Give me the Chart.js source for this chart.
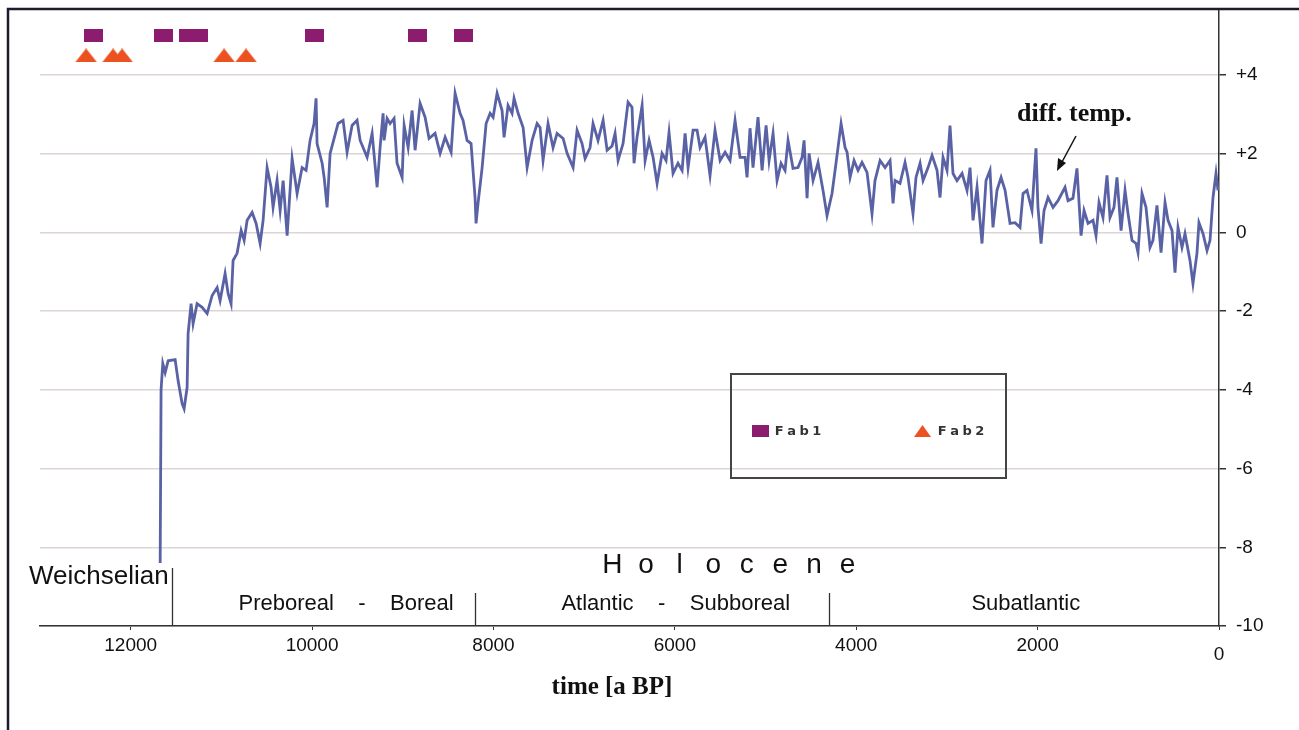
<!DOCTYPE html>
<html>
<head>
<meta charset="utf-8">
<script src="https://cdn.jsdelivr.net/npm/chart.js@4.4.1/dist/chart.umd.min.js"></script>
<style>
  html, body { margin: 0; padding: 0; background: #fff; }
  #wrap { width: 1299px; height: 730px; }
</style>
</head>
<body>
<div id="wrap"><canvas id="tempChart" width="1299" height="730"></canvas></div>
<script>
// === DATA ===
// temperature difference curve (years BP, deg C)
const tempYears = [
  11675, 11665, 11646, 11620, 11587, 11510, 11477, 11433, 11411, 11378, 11367, 11334, 11312, 11268, 11212,
  11157, 11102, 11047, 11014, 10959, 10926, 10893, 10871, 10827, 10782, 10749, 10716, 10661, 10617, 10573,
  10540, 10496, 10452, 10430, 10386, 10352, 10319, 10275, 10220, 10165, 10110, 10066, 10022, 9978, 9956,
  9945, 9889, 9867, 9834, 9801, 9757, 9713, 9658, 9614, 9559, 9504, 9470, 9393, 9338, 9283,
  9250, 9217, 9206, 9173, 9140, 9096, 9063, 9007, 8985, 8941, 8897, 8864, 8809, 8754, 8710,
  8644, 8588, 8533, 8467, 8423, 8368, 8335, 8291, 8247, 8203, 8192, 8170, 8125, 8081, 8037,
  8004, 7960, 7905, 7883, 7839, 7795, 7773, 7728, 7673, 7629, 7574, 7519, 7486, 7453, 7398,
  7343, 7299, 7232, 7188, 7122, 7078, 7023, 6990, 6935, 6902, 6847, 6791, 6747, 6692, 6659,
  6626, 6571, 6516, 6472, 6450, 6417, 6361, 6328, 6284, 6240, 6196, 6141, 6097, 6064, 6020,
  5965, 5920, 5887, 5854, 5799, 5755, 5722, 5667, 5612, 5557, 5501, 5446, 5391, 5336, 5281,
  5226, 5204, 5171, 5138, 5083, 5038, 4994, 4961, 4917, 4873, 4829, 4785, 4752, 4697, 4642,
  4597, 4575, 4542, 4520, 4476, 4421, 4366, 4322, 4267, 4223, 4167, 4123, 4101, 4068, 4024,
  3980, 3936, 3881, 3826, 3793, 3737, 3682, 3627, 3594, 3572, 3517, 3462, 3429, 3374, 3341,
  3296, 3263, 3208, 3164, 3109, 3076, 3043, 2999, 2966, 2933, 2889, 2833, 2778, 2745, 2712,
  2668, 2613, 2569, 2525, 2492, 2448, 2403, 2359, 2304, 2249, 2194, 2161, 2117, 2062, 2018,
  1996, 1962, 1929, 1885, 1830, 1775, 1698, 1665, 1610, 1566, 1521, 1488, 1444, 1389, 1356,
  1323, 1279, 1235, 1202, 1158, 1125, 1080, 1036, 1003, 959, 915, 893, 849, 805, 761,
  728, 684, 639, 595, 562, 518, 485, 452, 408, 375, 320, 287, 243, 221, 176,
  132, 99, 66, 33, 11
];
const tempValues = [
  -8.4, -4.0, -3.33, -3.56, -3.26, -3.23, -3.77, -4.35, -4.48, -3.94, -2.57, -1.81, -2.32, -1.81, -1.9,
  -2.06, -1.6, -1.4, -1.73, -1.04, -1.55, -1.81, -0.71, -0.53, 0.05, -0.2, 0.31, 0.51, 0.23, -0.28,
  0.31, 1.65, 1.15, 0.64, 1.32, 0.56, 1.32, -0.08, 1.88, 0.99, 1.65, 1.58, 2.34, 2.77, 3.41,
  2.26, 1.76, 1.4, 0.64, 2.01, 2.39, 2.77, 2.85, 2.04, 2.72, 2.85, 2.34, 1.91, 2.52, 1.15,
  2.16, 3.03, 2.34, 2.9, 2.77, 2.9, 1.76, 1.4, 2.72, 2.16, 3.1, 2.09, 3.28, 2.93, 2.39,
  2.52, 2.01, 2.42, 2.04, 3.54, 3.03, 2.85, 2.34, 2.26, 0.89, 0.23, 0.74, 1.65, 2.77, 3.03,
  2.93, 3.54, 3.1, 2.42, 3.23, 3.03, 3.41, 3.03, 2.67, 1.65, 2.34, 2.77, 2.67, 1.83, 2.77,
  2.16, 2.52, 2.39, 2.01, 1.65, 2.6, 2.26, 1.88, 2.16, 2.77, 2.34, 2.85, 2.09, 2.2, 2.52,
  1.83, 2.26, 3.31, 3.18, 1.76, 2.42, 3.23, 1.83, 2.34, 1.91, 1.25, 2.01, 1.83, 2.54, 1.5,
  1.76, 1.58, 2.52, 1.65, 2.6, 2.6, 2.16, 2.42, 1.45, 2.6, 1.83, 2.04, 1.83, 2.85, 1.91,
  1.91, 1.4, 2.65, 1.65, 2.93, 1.58, 2.72, 1.83, 2.52, 1.32, 1.76, 1.58, 2.34, 1.63, 1.65,
  1.91, 2.34, 0.87, 2.01, 1.32, 1.78, 1.07, 0.43, 0.99, 1.76, 2.77, 2.16, 2.04, 1.4, 1.83,
  1.58, 1.78, 1.53, 0.48, 1.32, 1.83, 1.65, 1.83, 0.74, 1.32, 1.25, 1.78, 1.4, 0.48, 1.4,
  1.76, 1.32, 1.65, 1.96, 1.58, 0.89, 1.91, 1.58, 2.72, 1.5, 1.32, 1.5, 1.07, 1.65, 0.31,
  1.15, -0.28, 1.32, 1.58, 0.13, 1.07, 1.4, 1.07, 0.23, 0.25, 0.13, 0.99, 1.07, 0.56, 2.14,
  0.64, -0.28, 0.56, 0.89, 0.64, 0.81, 1.15, 0.81, 0.87, 1.63, -0.08, 0.56, 0.23, 0.31, -0.08,
  0.76, 0.38, 1.45, 0.38, 0.64, 1.4, 0.05, 1.07, 0.48, -0.2, -0.28, -0.51, 0.99, 0.64, -0.38,
  -0.2, 0.69, -0.51, 0.76, 0.31, 0.05, -1.02, 0.13, -0.38, -0.03, -0.71, -1.3, -0.53, 0.25, -0.03,
  -0.46, -0.2, 0.89, 1.5, 1.07
];

// sample markers at the top
const fab1Years = [12414, 11643, 11367, 11257, 9978, 8842, 8335];
const fab2Years = [12492, 12194, 12095, 10970, 10728];
const fab1Level = 5.0;
const fab2Level = 4.5;

// axes
const xTicks = [12000, 10000, 8000, 6000, 4000, 2000, 0];
const yTicks = [-10, -8, -6, -4, -2, 0, 2, 4];

// pollen zones (boundaries and label centres in years BP)
const periodBounds = [11550, 8200, 4300];
const periodNames = ['Preboreal    -    Boreal', 'Atlantic    -    Subboreal', 'Subatlantic'];
const periodCentres = [9625, 5990, 2130];

// === MARKER IMAGES ===
function rectMarker(w, h, color) {
    const c = document.createElement('canvas');
    c.width = w; c.height = h;
    const g = c.getContext('2d');
    g.fillStyle = color;
    g.fillRect(0, 0, w, h);
    return c;
}
function triMarker(w, h, color) {
    const c = document.createElement('canvas');
    c.width = w; c.height = h;
    const g = c.getContext('2d');
    g.fillStyle = color;
    g.beginPath();
    g.moveTo(w / 2, 0);
    g.lineTo(w, h);
    g.lineTo(0, h);
    g.closePath();
    g.fill();
    return c;
}
const fab1Color = '#8c1d6e';
const fab2Color = '#ec5220';
const fab1Img = rectMarker(19, 13, fab1Color);
const fab2Img = triMarker(22, 14, fab2Color);

// draw spaced-out letters centred on cx
function spacedText(ctx, text, cx, y, step) {
    const chars = text.split('');
    const start = cx - step * (chars.length - 1) / 2;
    ctx.textAlign = 'center';
    chars.forEach((ch, i) => ctx.fillText(ch, start + i * step, y));
}

// === OVERLAY: frame, zones, labels, arrow, legend ===
const overlay = {
    id: 'overlay',
    afterDraw(chart) {
        const ctx = chart.ctx;
        const xs = chart.scales.x;
        const area = chart.chartArea;
        ctx.save();

        // outer frame
        ctx.strokeStyle = '#1c1c2c';
        ctx.lineWidth = 2.5;
        ctx.strokeRect(8, 9, 1340, 780);

        // zone boundaries
        ctx.strokeStyle = '#333';
        ctx.lineWidth = 1.3;
        periodBounds.forEach((yr, i) => {
            const px = Math.round(xs.getPixelForValue(yr)) + 0.5;
            ctx.beginPath();
            ctx.moveTo(px, i === 0 ? area.bottom - 58 : area.bottom - 33);
            ctx.lineTo(px, area.bottom);
            ctx.stroke();
        });

        ctx.fillStyle = '#111';
        ctx.textBaseline = 'middle';

        // Weichselian
        ctx.font = '26px "Liberation Sans", Arial, sans-serif';
        ctx.textAlign = 'left';
        ctx.fillText('Weichselian', 29, 577);

        // Holocene
        ctx.font = '28px "Liberation Sans", Arial, sans-serif';
        spacedText(ctx, 'Holocene', 730, 565, 33.6);

        // zone names
        ctx.font = '22px "Liberation Sans", Arial, sans-serif';
        ctx.textAlign = 'center';
        periodNames.forEach((name, i) => {
            ctx.fillText(name, xs.getPixelForValue(periodCentres[i]), 604);
        });

        // "0" sits a little lower than the other x labels
        ctx.font = '19px "Liberation Sans", Arial, sans-serif';
        ctx.fillText('0', xs.getPixelForValue(0), 655);

        // axis title
        ctx.font = 'bold 25px "Liberation Serif", "Times New Roman", serif';
        ctx.fillText('time [a BP]', 612, 688);

        // diff. temp. + arrow
        ctx.font = 'bold 26px "Liberation Serif", "Times New Roman", serif';
        ctx.textAlign = 'left';
        ctx.fillText('diff. temp.', 1017, 114);
        ctx.strokeStyle = '#111';
        ctx.lineWidth = 1.5;
        ctx.beginPath();
        ctx.moveTo(1076, 136);
        ctx.lineTo(1062, 162);
        ctx.stroke();
        ctx.beginPath();
        ctx.moveTo(1057, 171);
        ctx.lineTo(1058, 158);
        ctx.lineTo(1066, 163);
        ctx.closePath();
        ctx.fill();

        // legend box
        ctx.strokeStyle = '#444';
        ctx.lineWidth = 2;
        ctx.strokeRect(731, 374, 275, 104);
        ctx.drawImage(fab1Img, 752, 425, 17, 12);
        ctx.drawImage(triMarker(17, 12, fab2Color), 914, 425);
        ctx.fillStyle = '#333';
        ctx.font = 'bold 13px "DejaVu Sans", sans-serif';
        spacedText(ctx, 'Fab1', 798, 432, 12.5);
        spacedText(ctx, 'Fab2', 961, 432, 12.5);

        ctx.restore();
    }
};

// === CHART ===
const ctxTemp = document.getElementById('tempChart').getContext('2d');
const tempChart = new Chart(ctxTemp, {
    type: 'line',
    data: {
        datasets: [
            {
                label: 'diff. temp.',
                data: tempYears.map((yr, i) => ({ x: yr, y: tempValues[i] })),
                borderColor: '#5a62a6',
                borderWidth: 2.8,
                pointRadius: 0,
                tension: 0,
                fill: false
            },
            {
                label: 'Fab1',
                type: 'scatter',
                data: fab1Years.map(yr => ({ x: yr, y: fab1Level })),
                pointStyle: fab1Img,
                pointRadius: 8,
                backgroundColor: fab1Color,
                borderWidth: 0
            },
            {
                label: 'Fab2',
                type: 'scatter',
                data: fab2Years.map(yr => ({ x: yr, y: fab2Level })),
                pointStyle: fab2Img,
                pointRadius: 8,
                backgroundColor: fab2Color,
                borderWidth: 0
            }
        ]
    },
    options: {
        responsive: false,
        animation: false,
        devicePixelRatio: 1,
        layout: { padding: { left: 40, top: 9, right: 0, bottom: 0 } },
        plugins: {
            legend: { display: false },
            tooltip: { enabled: false }
        },
        scales: {
            x: {
                type: 'linear',
                reverse: true,
                min: 0,
                max: 13000,
                afterBuildTicks: axis => { axis.ticks = xTicks.map(v => ({ value: v })); },
                afterFit: axis => { axis.height = 104; axis.paddingLeft = 0; axis.paddingRight = 0; },
                grid: { drawOnChartArea: false, tickLength: 4, tickColor: '#333' },
                border: { color: '#333', width: 1.5 },
                ticks: {
                    maxRotation: 0,
                    autoSkip: false,
                    padding: 4,
                    color: '#111',
                    font: { size: 19, family: '"Liberation Sans", Arial, sans-serif' },
                    callback: v => (v === 0 ? '' : String(v))
                }
            },
            y: {
                position: 'right',
                min: -10,
                max: 5.68,
                afterBuildTicks: axis => { axis.ticks = yTicks.map(v => ({ value: v })); },
                afterFit: axis => { axis.width = 80; axis.paddingTop = 0; axis.paddingBottom = 0; },
                grid: { color: '#ddd5d5', lineWidth: 1.5, tickLength: 7, tickColor: '#333' },
                border: { color: '#333', width: 1.5 },
                ticks: {
                    padding: 10,
                    color: '#111',
                    font: { size: 19, family: '"Liberation Sans", Arial, sans-serif' },
                    callback: v => (v > 0 ? '+' + v : String(v))
                }
            }
        }
    },
    plugins: [overlay]
});
</script>
</body>
</html>
